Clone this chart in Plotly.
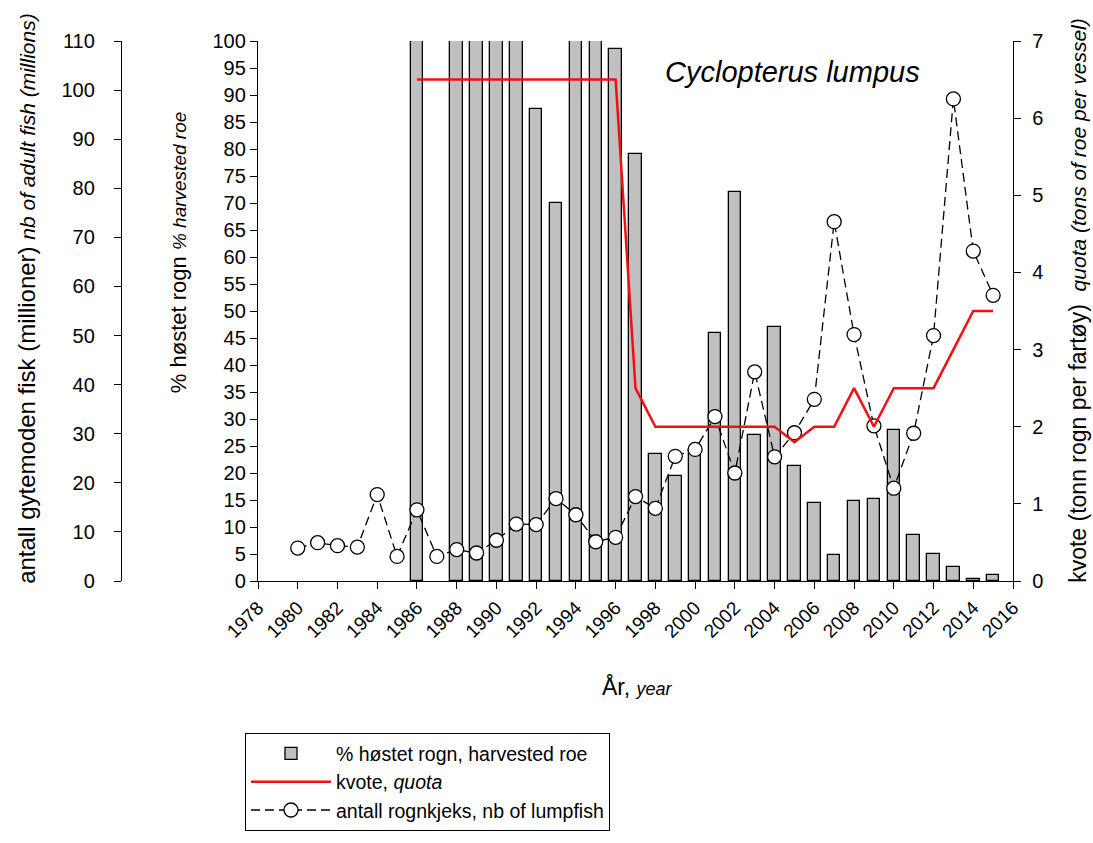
import plotly.graph_objects as go

# ---------------- data ----------------
bar_years = [1986, 1988, 1989, 1990, 1991, 1992, 1993, 1994, 1995, 1996, 1997,
             1998, 1999, 2000, 2001, 2002, 2003, 2004, 2005, 2006, 2007, 2008,
             2009, 2010, 2011, 2012, 2013, 2014, 2015]
harvested_pct = [100, 100, 100, 100, 100, 87.5, 70, 100, 100, 98.5, 79,
                 23.5, 19.5, 24.2, 46, 72, 27, 47, 21.3, 14.5, 4.8, 14.8,
                 15.2, 28, 8.5, 5, 2.6, 0.3, 1.2]

quota_years = list(range(1986, 2016))
quota_tons = [6.5, 6.5, 6.5, 6.5, 6.5, 6.5, 6.5, 6.5, 6.5, 6.5, 6.5,
              2.5, 2.0, 2.0, 2.0, 2.0, 2.0, 2.0, 2.0, 1.8, 2.0, 2.0,
              2.5, 2.0, 2.5, 2.5, 2.5, 3.0, 3.5, 3.5]

fish_years = list(range(1980, 2016))
lumpfish_millions = [6.7, 7.8, 7.2, 6.9, 17.6, 5.0, 14.5, 5.0, 6.4, 5.7, 8.3, 11.6,
                     11.5, 16.8, 13.5, 8.0, 8.9, 17.2, 14.8, 25.4, 26.8, 33.5,
                     22.0, 42.6, 25.3, 30.2, 37.0, 73.2, 50.2, 31.6, 18.9, 30.1,
                     50.0, 98.2, 67.2, 58.2]

x_tick_vals = list(range(1978, 2017, 2))

FONT = "Arial, Liberation Sans, sans-serif"

# ---------------- geometry helpers ----------------
W, H = 1093, 843
YS = 1 / 0.988  # compensation for the vertical squeeze seen in the snapshot
ML, MT, MR = 121, 41, 1093 - 1013
MB = H - round(584 * YS)
PW = W - ML - MR
PH = H - MT - MB
x_dom0 = (258 - ML) / PW


def px(sx):
    return (sx - ML) / PW


def py(sy):
    return (H - MB - sy * YS) / PH


fig = go.Figure()

fig.add_trace(go.Bar(
    x=bar_years, y=harvested_pct, yaxis="y", width=0.63,
    marker=dict(color="#c0c0c0", line=dict(color="black", width=1.3)),
    name="% høstet rogn, harvested roe", legendrank=1,
))

fig.add_trace(go.Scatter(
    x=fish_years, y=lumpfish_millions, yaxis="y2", mode="lines+markers",
    line=dict(color="black", width=1.3, dash="9px,5px"),
    marker=dict(symbol="circle", size=14, color="white",
                line=dict(color="black", width=1.3)),
    name="antall rognkjeks, nb of lumpfish", legendrank=3,
))

fig.add_trace(go.Scatter(
    x=quota_years, y=quota_tons, yaxis="y3", mode="lines",
    line=dict(color="#f01010", width=2.5),
    name="kvote, <i>quota</i>", legendrank=2,
))

axis_common = dict(showgrid=False, zeroline=False, showline=True,
                   linecolor="black", linewidth=1.4, ticks="outside",
                   ticklen=7, tickwidth=1.4, tickcolor="black",
                   tickfont=dict(family=FONT, size=20, color="black"))

fig.update_layout(
    width=W, height=H,
    margin=dict(l=ML, r=MR, t=MT, b=MB, pad=0),
    paper_bgcolor="white", plot_bgcolor="white",
    font=dict(family=FONT, color="black"),
    bargap=0,
    xaxis=dict(domain=[x_dom0, 1], range=[1978, 2016], tickvals=x_tick_vals,
               tickangle=-45, anchor="y",
               **{**axis_common, "tickfont": dict(family=FONT, size=19, color="black")}),
    yaxis=dict(range=[0, 100], dtick=5, tick0=0, anchor="x", side="left",
               **axis_common),
    yaxis2=dict(range=[0, 110], dtick=10, tick0=0, overlaying="y",
                anchor="free", position=0, side="left", ticklabelstandoff=15,
                **axis_common),
    yaxis3=dict(range=[0, 7], dtick=1, tick0=0, overlaying="y",
                anchor="x", side="right", ticklabelstandoff=7, **axis_common),
    legend=dict(x=px(245), y=py(737), xanchor="left", yanchor="top",
                bordercolor="black", borderwidth=1, bgcolor="white",
                font=dict(family=FONT, size=19.5, color="black"),
                itemwidth=80, traceorder="normal", tracegroupgap=0),
    showlegend=True,
)

annots = [
    dict(x=px(27), y=py(300),
         text="antall gytemoden fisk (millioner) <i><span style='font-size:21px'>nb of adult fish (millions)</span></i>",
         textangle=-90, font=dict(size=24)),
    dict(x=px(178), y=py(254),
         text="% høstet rogn <i><span style='font-size:19px'>% harvested roe</span></i>",
         textangle=-90, font=dict(size=22)),
    dict(x=px(1078), y=py(302),
         text="kvote (tonn rogn per fartøy)  <i><span style='font-size:21px'>quota (tons of roe per vessel)</span></i>",
         textangle=-90, font=dict(size=23)),
    dict(x=px(792), y=py(72), text="<i>Cyclopterus lumpus</i>",
         font=dict(size=29)),
    dict(x=px(637), y=py(690),
         text="År, <i><span style='font-size:18px'>year</span></i>",
         font=dict(size=23)),
]
for a in annots:
    a.update(xref="paper", yref="paper", showarrow=False,
             xanchor="center", yanchor="middle")
    a["font"] = dict(family=FONT, color="black", size=a["font"]["size"])
    fig.add_annotation(**a)

fig.write_html("out.html", config={"displayModeBar": False},
               post_script="document.body.style.margin='0';document.body.style.overflow='hidden';")
